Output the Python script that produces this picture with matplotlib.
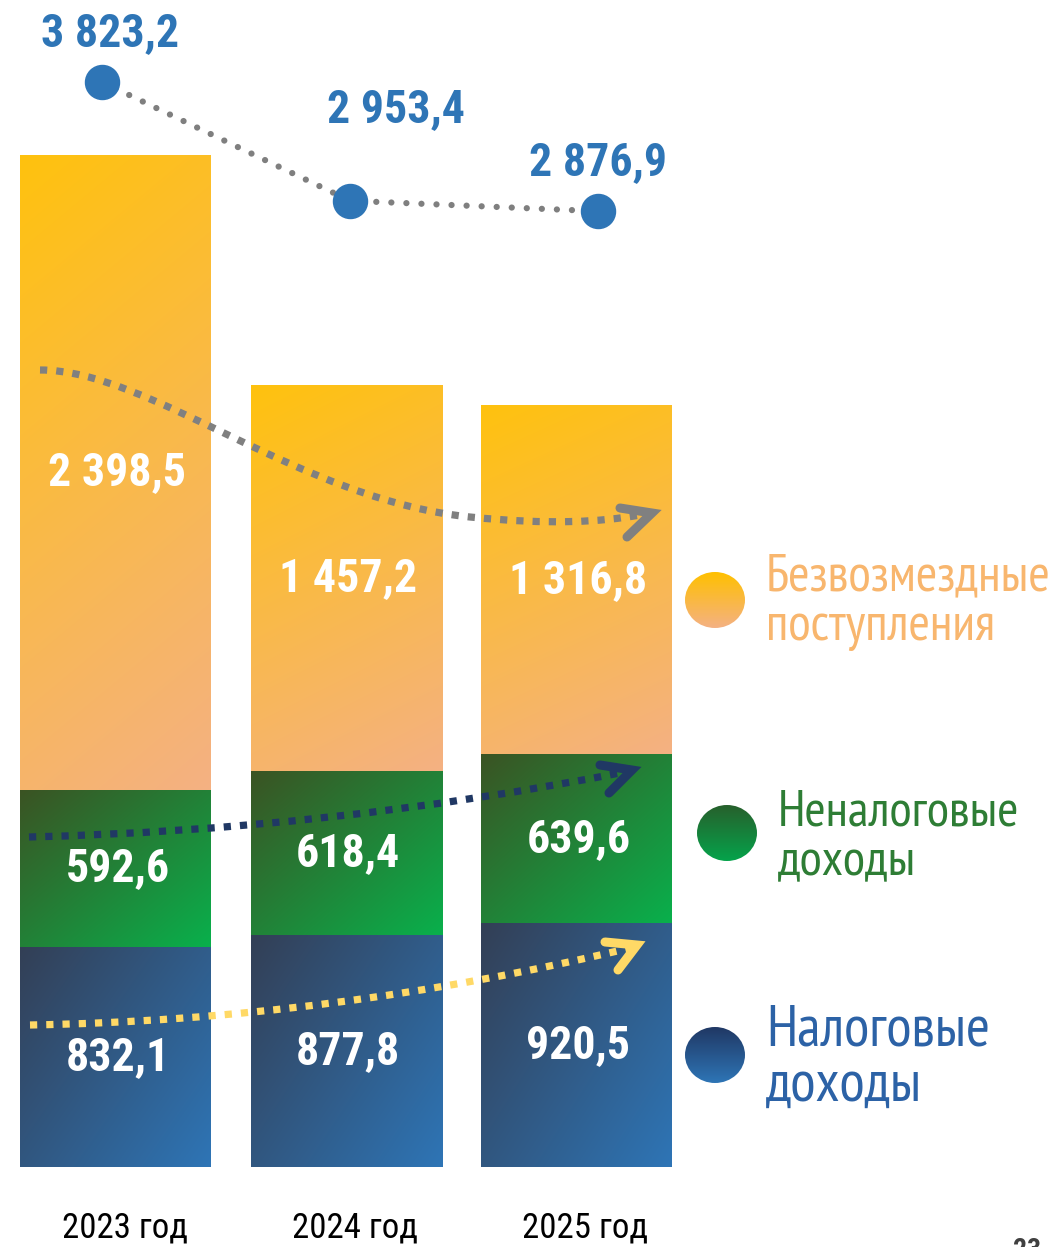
import numpy as np
import matplotlib
matplotlib.use('Agg')
import matplotlib.pyplot as plt
from matplotlib.path import Path
from matplotlib.patches import PathPatch, Ellipse
from matplotlib.colors import to_rgb

# data
years = ['2023 год', '2024 год', '2025 год']
tax = [832.1, 877.8, 920.5]
nontax = [592.6, 618.4, 639.6]
grants = [2398.5, 1457.2, 1316.8]
totals = [3823.2, 2953.4, 2876.9]
legend_lines = [['Безвозмездные', 'поступления'], ['Неналоговые', 'доходы'], ['Налоговые', 'доходы']]

NARROW = ['Roboto Condensed', 'DejaVu Sans']
LEGEND_FONT = ['PT Sans Narrow', 'Roboto Condensed', 'DejaVu Sans']


def fmt(v):
    return f"{v:,.1f}".replace(',', ' ').replace('.', ',')


def grad(c_a, c_b, wx, wy, n=200):
    u, v = np.meshgrid(np.linspace(0, 1, n), np.linspace(0, 1, n))
    t = (wx * u + wy * v) / (wx + wy)
    a, b = np.array(to_rgb(c_a)), np.array(to_rgb(c_b))
    return a[None, None, :] * (1 - t[..., None]) + b[None, None, :] * t[..., None]


fig = plt.figure(figsize=(10.61, 12.47), dpi=100)
renderer = fig.canvas.get_renderer()

# stacked bars, pixel scale ~0.2647 px per unit, zero at y=1167
ax = fig.add_axes([0, 0, 1, 1])
ax.axis('off')
px = 0.2647
step = 230.5
x0 = 115.5
xs = np.arange(len(years))
width = 191 / step

series = [
    (tax, '#333F55', '#2E75B6', 1.0, 0.8),
    (nontax, '#3B5323', '#09B04C', 1.0, 1.0),
    (grants, '#FFC20E', '#F4B183', 0.25, 1.0),
]
bottom = np.zeros(len(years))
for vals, ca, cb, wx, wy in series:
    bars = ax.bar(xs, vals, width, bottom=bottom, color='none', edgecolor='none')
    for b, v in zip(bars, vals):
        bx, by, bw, bh = b.get_x(), b.get_y(), b.get_width(), b.get_height()
        ax.imshow(grad(ca, cb, wx, wy), extent=[bx, bx + bw, by, by + bh],
                  aspect='auto', interpolation='bilinear', zorder=1)
        ax.text(bx + bw / 2 + 2 / step, by + bh / 2, fmt(v), ha='center', va='center',
                color='white', fontsize=33, fontweight='bold', family=NARROW, zorder=5)
    bottom = bottom + np.array(vals)

for x, y in zip(xs, years):
    ax.annotate(y, (x, 0), xytext=(9, -61), textcoords='offset pixels',
                ha='center', va='center', fontsize=25, family=NARROW, color='black')

ax.set_xlim(-x0 / step, (1061 - x0) / step)
ax.set_ylim(-(1247 - 1167) / px, 1167 / px)

# decoration layer in pixel coords
deco = fig.add_axes([0, 0, 1, 1], zorder=2)
deco.axis('off')
deco.patch.set_visible(False)
deco.set_xlim(0, 1061)
deco.set_ylim(1247, 0)

M, C3, C4 = Path.MOVETO, Path.CURVE3, Path.CURVE4
arrows = [
    ('#808080', [(40, 370), (150, 370), (300, 500), (470, 517), (550, 525), (600, 522), (640, 515)],
     [M, C4, C4, C4, C4, C4, C4], [(620, 508), (652, 513), (627, 537)]),
    ('#203864', [(29, 837), (330, 830), (625, 772)], [M, C3, C3], [(600, 765), (632, 770), (609, 793)]),
    ('#FFD966', [(30, 1025), (330, 1020), (630, 948)], [M, C3, C3], [(605, 942), (637, 945), (618, 970)]),
]
for col, verts, codes, head in arrows:
    deco.add_patch(PathPatch(Path(verts, codes), fill=False, edgecolor=col, lw=5.2,
                             linestyle=(0, (1.0, 1.25)), capstyle='butt'))
    hx, hy = zip(*head)
    deco.plot(hx, hy, color=col, lw=6.5, solid_capstyle='round', solid_joinstyle='miter')

# legend: circle, text colour, left x, baselines, width of first line in px
legend_marks = [
    (715, 600, '#FFC000', '#F4B183', '#F8B66E', 766, [590, 640], 286),
    (727, 833, '#27602C', '#05A34B', '#2E7D35', 778, [825, 875], 242),
    (715, 1055, '#203864', '#2E75B6', '#2C62A6', 766, [1045, 1101], 224),
]
for (cx, cy, ct, cbm, tcol, tx, bases, tw), lines in zip(legend_marks, legend_lines):
    e = Ellipse((cx, cy), 60, 56, fc='none', ec='none')
    deco.add_patch(e)
    im = deco.imshow(grad(ct, cbm, 0.0, 1.0), extent=[cx - 30, cx + 30, cy + 28, cy - 28],
                     aspect='auto', interpolation='bilinear')
    im.set_clip_path(e)
    texts = [deco.text(tx, base, line, ha='left', va='baseline', fontsize=34, color=tcol,
                       family=LEGEND_FONT) for line, base in zip(lines, bases)]
    fs = 34 * tw / texts[0].get_window_extent(renderer).width
    for t in texts:
        t.set_fontsize(fs)

deco.text(1027, 1237, '23', ha='center', va='top', fontsize=20, fontweight='bold',
          color='#404040', family=NARROW)
deco.set_xlim(0, 1061)
deco.set_ylim(1247, 0)

# totals line with its own scale
axt = fig.add_axes([0, 0, 1, 1], zorder=3)
axt.axis('off')
axt.patch.set_visible(False)
axt.plot(xs, totals, color='#7F7F7F', lw=4.5, linestyle=(0, (0.01, 2.4)),
         dash_capstyle='round', zorder=1)
axt.plot(xs, totals, 'o', ms=24.5, color='#2E75B6', zorder=2)
offsets = [(8, 49), (46, 92), (0, 49)]
for x, v, off in zip(xs, totals, offsets):
    axt.annotate(fmt(v), (x, v), xytext=off, textcoords='offset pixels', ha='center', va='center',
                 fontsize=33, fontweight='bold', color='#2E75B6', family=NARROW)
axt.set_xlim(-102 / 248, (1061 - 102) / 248)
axt.set_ylim(-4711, 4424)

fig.savefig('out.png', dpi=100)
